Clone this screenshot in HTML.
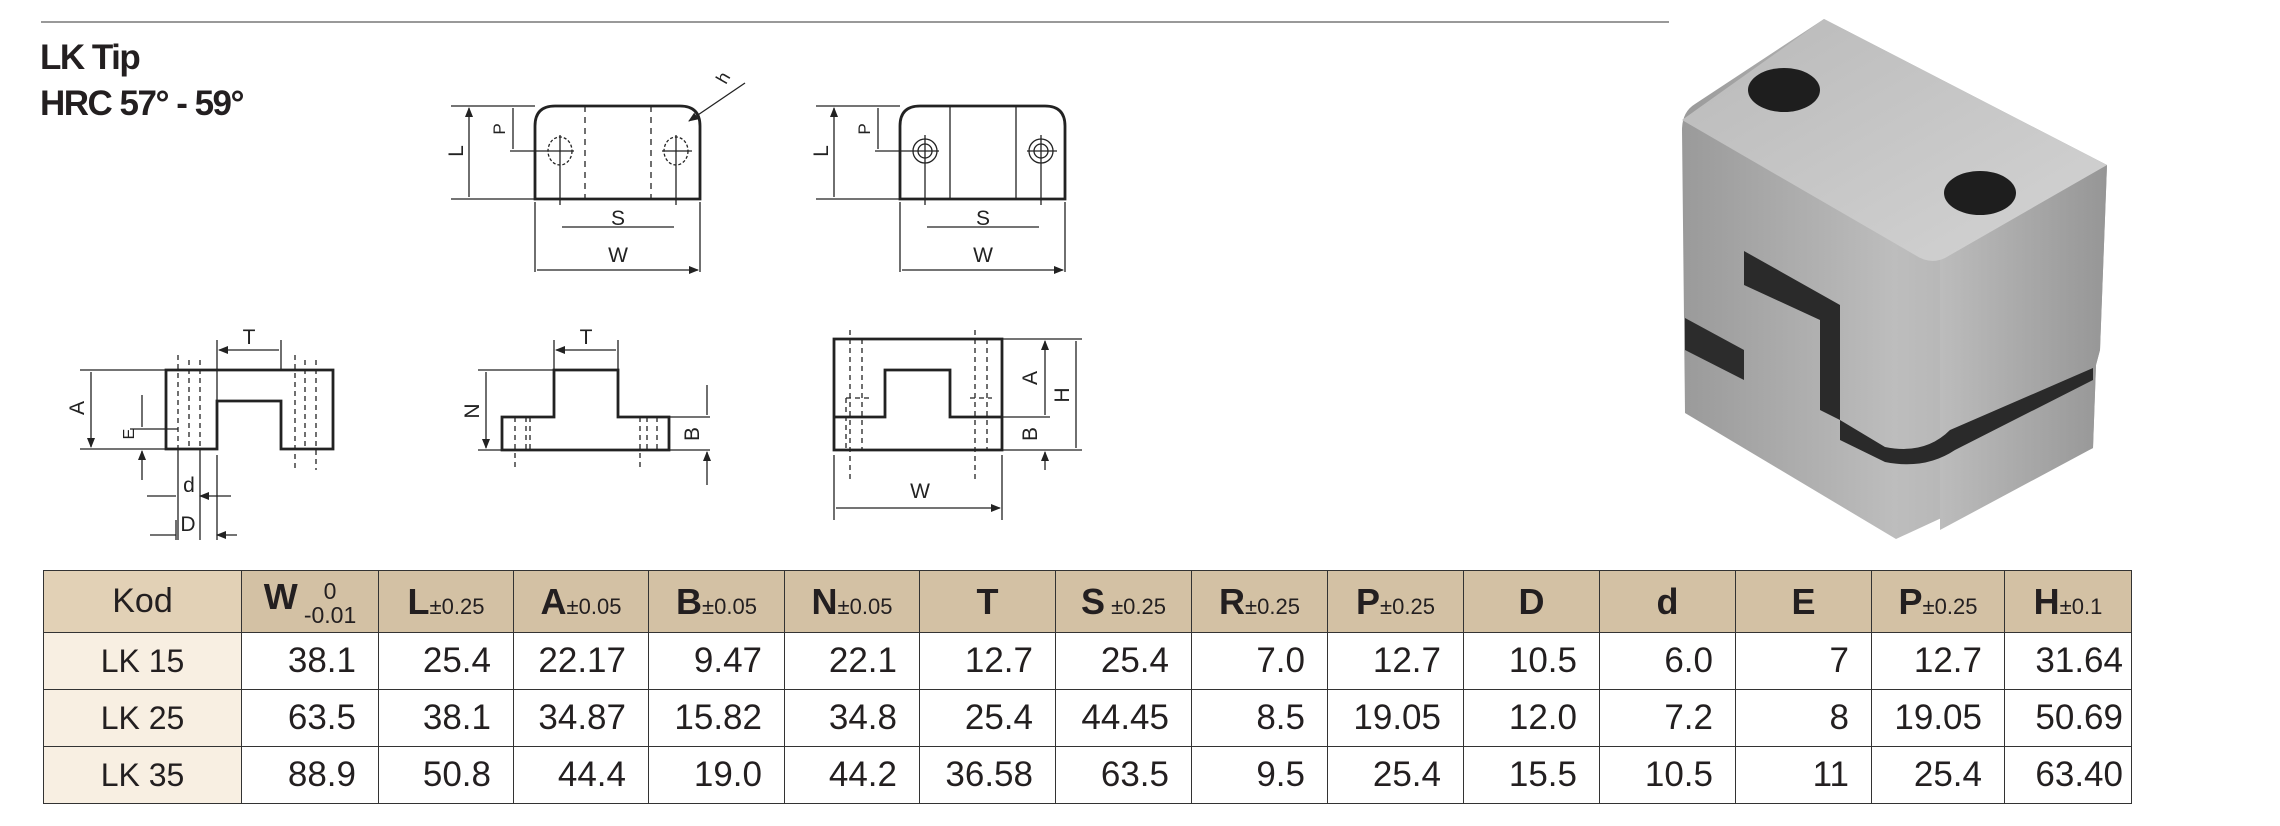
<!DOCTYPE html>
<html><head><meta charset="utf-8"><style>
html,body{margin:0;padding:0;background:#fff}
body{width:2280px;height:826px;position:relative;overflow:hidden;font-family:"Liberation Sans",sans-serif;color:#231f20}
.t{position:absolute;font-weight:bold;font-size:35px;letter-spacing:-1.5px}
table{position:absolute;left:43px;top:570px;border-collapse:collapse;table-layout:fixed;width:2088px}
td{box-sizing:border-box;border:1.5px solid #333;padding:0 22px 0 0;text-align:right;font-size:35px;height:57px;white-space:nowrap;overflow:hidden}
tr.h td{background:#d3c1a4;height:62px;text-align:center;padding:0;font-size:22px}
tr.h td b{font-size:36px}
td.k{background:#f8efe2;text-align:center;padding:0;font-size:32px}
tr.h td.k{background:#e2d1b6;font-size:34px}
</style></head><body>
<div style="position:absolute;left:41px;top:21px;width:1628px;height:2px;background:#999"></div>
<div class="t" style="left:40px;top:38px">LK Tip</div>
<div class="t" style="left:40px;top:84px">HRC 57° - 59°</div>

<svg width="2280" height="826" style="position:absolute;left:0;top:0" font-family="Liberation Sans" fill="none" stroke="#222">
<defs><marker id="a" markerWidth="10" markerHeight="8" refX="9" refY="4" orient="auto-start-reverse" markerUnits="userSpaceOnUse"><path d="M0,0L10,4L0,8z" fill="#222" stroke="none"/></marker></defs>
<g stroke-width="1.3">
<path d="M535,199V126Q535,106 555,106H680Q700,106 700,126V199Z" stroke-width="2.8"/>
<path d="M585,106V199M651,106V199" stroke-dasharray="6,5"/>
<ellipse cx="560" cy="151" rx="12" ry="14" stroke-dasharray="3,2"/><ellipse cx="676" cy="151" rx="12" ry="14" stroke-dasharray="3,2"/>
<path d="M560,135V205M676,135V205M510,151H574M662,151H692"/>
<path d="M451,106H535M451,199H535M535,202V272M700,202V272"/>
<path d="M469,108V197M513,108V149M562,227H674M537,270H698" marker-start="url(#a)" marker-end="url(#a)"/>
<path d="M745,83L689,121" marker-end="url(#a)"/>
<path d="M900,199V126Q900,106 920,106H1045Q1065,106 1065,126V199Z" stroke-width="2.8"/>
<path d="M950,106V199M1016,106V199"/>
<circle cx="925" cy="151" r="12"/><circle cx="925" cy="151" r="7"/><circle cx="1041" cy="151" r="12"/><circle cx="1041" cy="151" r="7"/>
<path d="M925,135V205M1041,135V205M875,151H939M1027,151H1057"/>
<path d="M816,106H900M816,199H900M900,202V272M1065,202V272"/>
<path d="M834,108V197M878,108V149M927,227H1039M902,270H1063" marker-start="url(#a)" marker-end="url(#a)"/>
<path d="M166,370H333V449H281V401H217V449H166Z" stroke-width="2.8"/>
<path d="M178,355V449M189,360V449M200,360V449M295,355V470M305,360V449M316,360V470" stroke-dasharray="5,4"/>
<path d="M178,449V540M200,449V540M176,520V540M217,455V540"/>
<path d="M217,340V401M281,340V370M80,370H166M80,449H166M130,429H178"/>
<path d="M219,350H279M91,372V447" marker-start="url(#a)" marker-end="url(#a)"/>
<path d="M142,395V427M142,480V451" marker-end="url(#a)"/>
<path d="M147,496H176M231,496H200" marker-end="url(#a)"/>
<path d="M150,535H176M237,535H217" marker-end="url(#a)"/>
<path d="M502,417H554V370H618V417H669V450H502Z" stroke-width="2.8"/>
<path d="M515,417V470M526,417V450M530,417V450M640,417V470M647,417V450M657,417V450" stroke-dasharray="5,4"/>
<path d="M554,340V370M618,340V370M478,370H554M478,450H502M669,417H710M669,450H710"/>
<path d="M556,350H616M486,372V448" marker-start="url(#a)" marker-end="url(#a)"/>
<path d="M707,385V415M707,485V452" marker-end="url(#a)"/>
<path d="M834,339H1002V450H834ZM834,417H885V370H950V417H1002" stroke-width="2.8"/>
<path d="M850,330V480M862,339V450M975,330V480M987,339V450M846,398H872M846,448V398M970,398H992" stroke-dasharray="5,4"/>
<path d="M1002,339H1082M1002,450H1082M1002,417H1050M834,455V520M1002,455V520"/>
<path d="M1045,341V415M1076,341V448M836,508H1000" marker-start="url(#a)" marker-end="url(#a)"/>
<path d="M1045,470V452" marker-end="url(#a)"/>
</g>
<g fill="#222" stroke="none" font-size="21">
<text x="618" y="225" text-anchor="middle">S</text><text x="618" y="262" text-anchor="middle">W</text>
<text x="983" y="225" text-anchor="middle">S</text><text x="983" y="262" text-anchor="middle">W</text>
<text x="720" y="85" font-size="18" transform="rotate(-60 723 80)">h</text>
<text transform="translate(463,151) rotate(-90)" text-anchor="middle">L</text>
<text transform="translate(505,129) rotate(-90)" text-anchor="middle" font-size="17">P</text>
<text transform="translate(828,151) rotate(-90)" text-anchor="middle">L</text>
<text transform="translate(870,129) rotate(-90)" text-anchor="middle" font-size="17">P</text>
<text x="249" y="344" text-anchor="middle">T</text><text x="586" y="344" text-anchor="middle">T</text>
<text transform="translate(84,408) rotate(-90)" text-anchor="middle">A</text>
<text transform="translate(134,434) rotate(-90)" text-anchor="middle" font-size="16">E</text>
<text x="189" y="492" text-anchor="middle">d</text><text x="188" y="531" text-anchor="middle">D</text>
<text transform="translate(479,411) rotate(-90)" text-anchor="middle">N</text>
<text transform="translate(699,434) rotate(-90)" text-anchor="middle">B</text>
<text transform="translate(1037,378) rotate(-90)" text-anchor="middle">A</text>
<text transform="translate(1069,395) rotate(-90)" text-anchor="middle">H</text>
<text transform="translate(1037,434) rotate(-90)" text-anchor="middle">B</text>
<text x="920" y="498" text-anchor="middle">W</text>
</g>
<defs>
<linearGradient id="g1" x1="0" y1="0" x2="1" y2="1"><stop offset="0" stop-color="#b9b9b9"/><stop offset="1" stop-color="#d4d4d4"/></linearGradient>
<linearGradient id="g2" x1="0" y1="0" x2="1" y2="0"><stop offset="0" stop-color="#9a9a9a"/><stop offset=".5" stop-color="#bdbdbd"/><stop offset="1" stop-color="#a5a5a5"/></linearGradient>
<linearGradient id="g3" x1="0" y1="0" x2="1" y2="0"><stop offset="0" stop-color="#bcbcbc"/><stop offset="1" stop-color="#969696"/></linearGradient>
</defs>
<g stroke="none">
<path d="M1685,413L1682,130Q1682,112 1695,104L1824,19L2107,165L2100,350L2096,365L2093,448L1896,539Z" fill="url(#g2)"/>
<path d="M1940,258L2107,165L2100,350L2096,365L2093,448L1940,530Z" fill="url(#g3)"/>
<path d="M1682,120L1824,19L2107,165L1945,258Q1930,265 1915,255Z" fill="url(#g1)"/>
<ellipse cx="1784" cy="90" rx="36" ry="22" fill="#1e1e1e"/><ellipse cx="1980" cy="193" rx="36" ry="22" fill="#1e1e1e"/>
<path d="M1744,251L1840,305V420L1820,410V320L1744,285Z" fill="#2a2a2a"/>
<path d="M1685,318L1744,350V380L1685,350Z" fill="#2c2c2c"/>
<path d="M1840,420L1885,447Q1925,455 1950,430L2093,368V380L1955,450Q1925,470 1885,462L1840,440Z" fill="#2a2a2a"/>
</g>
</svg>

<table>
<colgroup><col style="width:198px"><col style="width:137px"><col style="width:135px"><col style="width:135px"><col style="width:136px"><col style="width:135px"><col style="width:136px"><col style="width:136px"><col style="width:136px"><col style="width:136px"><col style="width:136px"><col style="width:136px"><col style="width:136px"><col style="width:133px"><col style="width:127px"></colgroup>
<tr class="h"><td class="k">Kod</td><td><b>W</b> <span style="display:inline-block;vertical-align:middle;line-height:24px;font-size:23px">0<br>-0.01</span></td><td><b>L</b>±0.25</td><td><b>A</b>±0.05</td><td><b>B</b>±0.05</td><td><b>N</b>±0.05</td><td><b>T</b></td><td><b>S</b> ±0.25</td><td><b>R</b>±0.25</td><td><b>P</b>±0.25</td><td><b>D</b></td><td><b>d</b></td><td><b>E</b></td><td><b>P</b>±0.25</td><td><b>H</b>±0.1</td></tr>
<tr><td class="k">LK 15</td><td>38.1</td><td>25.4</td><td>22.17</td><td>9.47</td><td>22.1</td><td>12.7</td><td>25.4</td><td>7.0</td><td>12.7</td><td>10.5</td><td>6.0</td><td>7</td><td>12.7</td><td style="padding-right:8px">31.64</td></tr>
<tr><td class="k">LK 25</td><td>63.5</td><td>38.1</td><td>34.87</td><td>15.82</td><td>34.8</td><td>25.4</td><td>44.45</td><td>8.5</td><td>19.05</td><td>12.0</td><td>7.2</td><td>8</td><td>19.05</td><td style="padding-right:8px">50.69</td></tr>
<tr><td class="k">LK 35</td><td>88.9</td><td>50.8</td><td>44.4</td><td>19.0</td><td>44.2</td><td>36.58</td><td>63.5</td><td>9.5</td><td>25.4</td><td>15.5</td><td>10.5</td><td>11</td><td>25.4</td><td style="padding-right:8px">63.40</td></tr>
</table>
</body></html>
